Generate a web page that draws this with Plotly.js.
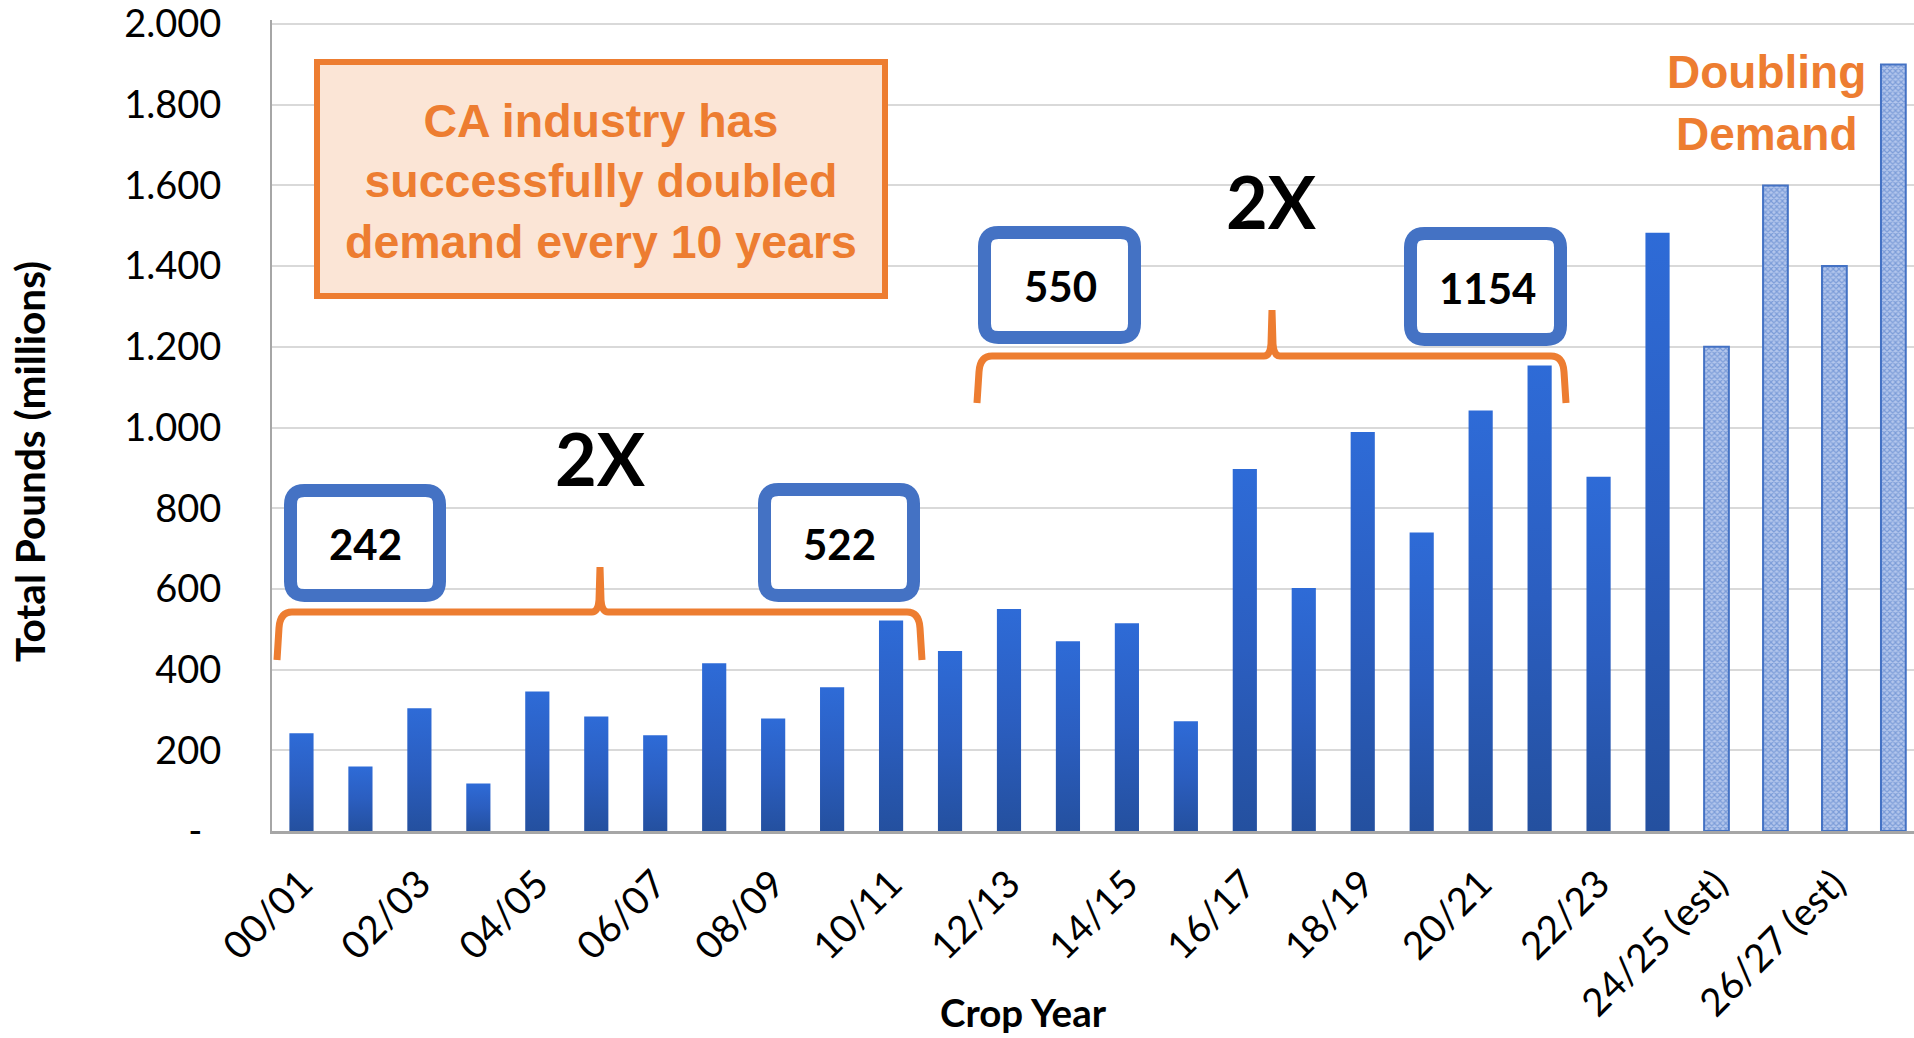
<!DOCTYPE html>
<html>
<head>
<meta charset="utf-8">
<script src="https://cdn.plot.ly/plotly-3.0.1.min.js"></script>
<style>
  html, body { margin: 0; padding: 0; background: #ffffff; }
  #chart { width: 1914px; height: 1038px; }
</style>
</head>
<body>
<div id="chart"></div>
<script>
// ---------------- DATA ----------------
const actualYears = ["00/01","01/02","02/03","03/04","04/05","05/06","06/07","07/08","08/09","09/10",
                     "10/11","11/12","12/13","13/14","14/15","15/16","16/17","17/18","18/19","19/20",
                     "20/21","21/22","22/23","23/24"];
const actualPounds = [242,160,304,118,346,284,237,416,279,356,
                      522,446,550,470,515,272,897,602,989,740,
                      1042,1154,878,1483];
const estYears = ["24/25 (est)","25/26 (est)","26/27 (est)","27/28 (est)"];
const estPounds = [1200,1600,1400,1900];

const xTickLabels = ["00/01","02/03","04/05","06/07","08/09","10/11","12/13","14/15",
                     "16/17","18/19","20/21","22/23","24/25 (est)","26/27 (est)"];
const yTickValues = [0,200,400,600,800,1000,1200,1400,1600,1800,2000];
const yTickLabels = ["-\u2002","200","400","600","800","1.000","1.200","1.400","1.600","1.800","2.000"];

const calloutLabels = ["242","522","550","1154"];
const doublingLabel = "2X";
const boxText = ["CA industry has","successfully doubled","demand every 10 years"];
const sideText = ["Doubling","Demand"];
const xTitle = "Crop Year";
const yTitle = "Total Pounds (millions)";

// ---------------- LAYOUT HELPERS ----------------
const ML = 272, MT = 20, MB = 207, FW = 1914, FH = 1038;
const PW = FW - ML, PH = FH - MT - MB;
const YMAX = 2010;
const px = p => (p - ML) / PW;
const py = p => (MT + PH - p) / PH;

function pathFrom(cmds) {
  return cmds.map(c => {
    const op = c[0];
    if (op === 'Z') return 'Z';
    const nums = [];
    for (let i = 1; i < c.length; i += 2) {
      nums.push(px(c[i]).toFixed(5) + ',' + py(c[i + 1]).toFixed(5));
    }
    return op + nums.join(' ');
  }).join(' ');
}
function roundRect(x0, y0, x1, y1, r) {
  return pathFrom([
    ['M', x0 + r, y0], ['L', x1 - r, y0], ['Q', x1, y0, x1, y0 + r],
    ['L', x1, y1 - r], ['Q', x1, y1, x1 - r, y1], ['L', x0 + r, y1],
    ['Q', x0, y1, x0, y1 - r], ['L', x0, y0 + r], ['Q', x0, y0, x0 + r, y0], ['Z']
  ]);
}
function brace(xl, xr, xm, yH, yBottom, yPeak) {
  return pathFrom([
    ['M', xl, yBottom], ['L', xl + 2, yH + 16], ['Q', xl + 3, yH, xl + 15, yH],
    ['L', xm - 8, yH], ['Q', xm - 2, yH, xm - 1, yH - 12], ['L', xm, yPeak],
    ['L', xm + 1, yH - 12], ['Q', xm + 2, yH, xm + 8, yH],
    ['L', xr - 15, yH], ['Q', xr - 3, yH, xr - 2, yH + 16], ['L', xr, yBottom]
  ]);
}

const ORANGE = '#ed7d31', BLUE = '#4472c4';
const CAL = 'Lato, "Noto Sans", sans-serif';
const ARIAL = '"Liberation Sans", Arial, sans-serif';

// ---------------- TRACES ----------------
const traces = [
  {
    type: 'bar', name: 'Actual', x: actualYears, y: actualPounds,
    width: 0.41,
    marker: { color: '#2a5fc0', line: { width: 0 } },
    hoverinfo: 'skip'
  },
  {
    type: 'bar', name: 'Estimate', x: estYears, y: estPounds,
    width: 0.42,
    marker: {
      color: '#9bb4e6',
      line: { color: BLUE, width: 2 },
      pattern: { shape: 'x', fgcolor: '#4472c4', bgcolor: '#b3c6ec', size: 4, solidity: 0.5, fillmode: 'overlay' }
    },
    hoverinfo: 'skip'
  }
];

// ---------------- ANNOTATIONS ----------------
const ann = [];
function txt(text, xpx, ypx, font, extra) {
  ann.push(Object.assign({
    text: text, xref: 'paper', yref: 'paper', x: px(xpx), y: py(ypx),
    xanchor: 'center', yanchor: 'middle', showarrow: false, font: font
  }, extra || {}));
}
txt(boxText.join('<br>'), 601, 181, { family: ARIAL, size: 46.5, color: ORANGE, weight: 700 });
txt(sideText[0], 1766, 72, { family: ARIAL, size: 46, color: ORANGE, weight: 700 });
txt(sideText[1], 1766, 134, { family: ARIAL, size: 46, color: ORANGE, weight: 700 });
txt(doublingLabel, 600, 458, { family: CAL, size: 72, color: '#000000', weight: 700 });
txt(doublingLabel, 1271, 201, { family: CAL, size: 72, color: '#000000', weight: 700 });
const calloutPos = [[365, 544], [839, 544], [1060, 286], [1487, 288]];
calloutLabels.forEach((t, i) => txt(t, calloutPos[i][0], calloutPos[i][1], { family: CAL, size: 42, color: '#000000', weight: 700 }));
txt(xTitle, 1023, 1012, { family: CAL, size: 38.5, color: '#000000', weight: 700 });
txt(yTitle, 29, 462, { family: CAL, size: 40.5, color: '#000000', weight: 700 }, { textangle: -90 });

// ---------------- SHAPES ----------------
const shapes = [
  { type: 'rect', xref: 'paper', yref: 'paper', x0: px(317), x1: px(885), y0: py(296), y1: py(62),
    fillcolor: '#fbe5d6', line: { color: ORANGE, width: 6 }, layer: 'above' },
  { type: 'path', xref: 'paper', yref: 'paper', path: roundRect(290.5, 490.5, 439.5, 595.5, 14),
    fillcolor: '#ffffff', line: { color: BLUE, width: 13 } },
  { type: 'path', xref: 'paper', yref: 'paper', path: roundRect(764.5, 489.5, 913.5, 595.5, 14),
    fillcolor: '#ffffff', line: { color: BLUE, width: 13 } },
  { type: 'path', xref: 'paper', yref: 'paper', path: roundRect(984.5, 232.5, 1134.5, 337.5, 14),
    fillcolor: '#ffffff', line: { color: BLUE, width: 13 } },
  { type: 'path', xref: 'paper', yref: 'paper', path: roundRect(1410.5, 233.5, 1560.5, 339.5, 14),
    fillcolor: '#ffffff', line: { color: BLUE, width: 13 } },
  { type: 'path', xref: 'paper', yref: 'paper', path: brace(277, 922, 600, 612, 660, 567),
    fillcolor: 'rgba(0,0,0,0)', line: { color: ORANGE, width: 7 } },
  { type: 'path', xref: 'paper', yref: 'paper', path: brace(977, 1566, 1272, 356, 403, 310),
    fillcolor: 'rgba(0,0,0,0)', line: { color: ORANGE, width: 7 } }
];

// ---------------- LAYOUT ----------------
const layout = {
  width: FW, height: FH,
  margin: { l: ML, r: 0, t: MT, b: MB, pad: 0 },
  paper_bgcolor: '#ffffff', plot_bgcolor: '#ffffff',
  showlegend: false,
  barmode: 'overlay',
  xaxis: {
    type: 'category',
    categoryorder: 'array', categoryarray: actualYears.concat(estYears),
    range: [-0.5, 27.35], autorange: false,
    tickmode: 'array', tickvals: xTickLabels, ticktext: xTickLabels,
    tickangle: -45, ticks: '', ticklabelstandoff: 12, ticklabeloverflow: 'allow',
    tickfont: { family: CAL, size: 38.5, color: '#000000' },
    showline: true, linecolor: '#a6a6a6', linewidth: 3,
    showgrid: false, zeroline: false, fixedrange: true
  },
  yaxis: {
    range: [0, YMAX], autorange: false,
    tickmode: 'array', tickvals: yTickValues, ticktext: yTickLabels,
    ticks: '', ticklabelstandoff: 41, ticklabeloverflow: 'allow',
    tickfont: { family: CAL, size: 38, color: '#000000' },
    showline: true, linecolor: '#a6a6a6', linewidth: 2,
    showgrid: true, gridcolor: '#d9d9d9', gridwidth: 2,
    zeroline: false, fixedrange: true
  },
  annotations: ann,
  shapes: shapes
};

Plotly.newPlot('chart', traces, layout, { displayModeBar: false, staticPlot: true }).then(gd => {
  // vertical gradient on the actual-year bars
  const svg = gd.querySelector('svg.main-svg');
  const ns = 'http://www.w3.org/2000/svg';
  let defs = svg.querySelector('defs');
  if (!defs) { defs = document.createElementNS(ns, 'defs'); svg.insertBefore(defs, svg.firstChild); }
  const lg = document.createElementNS(ns, 'linearGradient');
  lg.setAttribute('id', 'barGrad');
  lg.setAttribute('x1', '0'); lg.setAttribute('y1', '0');
  lg.setAttribute('x2', '0'); lg.setAttribute('y2', '1');
  [['0', '#2e6bd7'], ['0.5', '#2b5ec0'], ['1', '#24509f']].forEach(s => {
    const st = document.createElementNS(ns, 'stop');
    st.setAttribute('offset', s[0]); st.setAttribute('stop-color', s[1]);
    lg.appendChild(st);
  });
  defs.appendChild(lg);
  const traceGroups = gd.querySelectorAll('.barlayer .trace.bars');
  if (traceGroups.length) {
    traceGroups[0].querySelectorAll('path').forEach(p => { p.style.fill = 'url(#barGrad)'; });
  }
});
</script>
</body>
</html>
